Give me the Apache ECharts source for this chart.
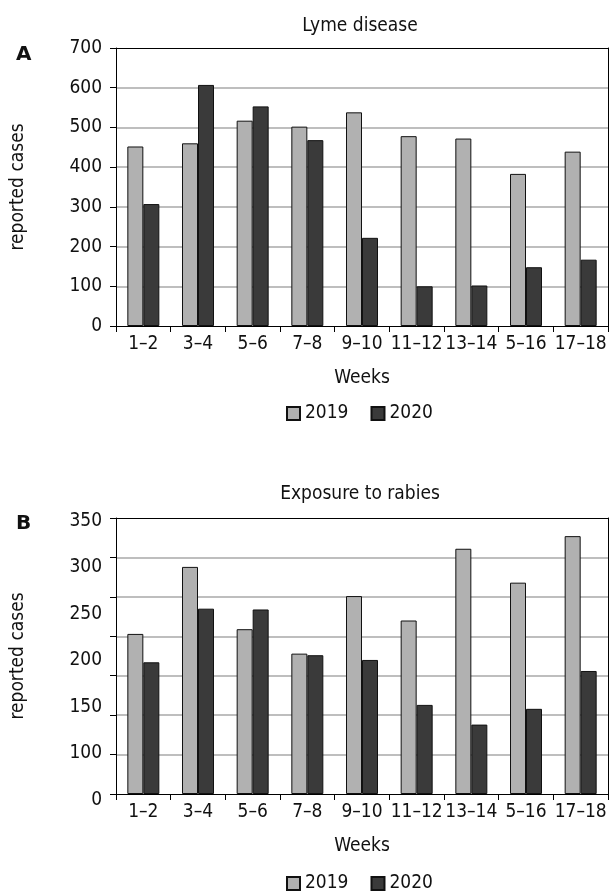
<!DOCTYPE html>
<html><head><meta charset="utf-8">
<script src="https://cdn.jsdelivr.net/npm/echarts@6/dist/echarts.min.js"></script>
<style>html,body{margin:0;padding:0;background:#fff}#c{width:610px;height:895px}</style>
</head><body><div id="c"></div>
<script>
const weeks = ['1–2','3–4','5–6','7–8','9–10','11–12','13–14','5–16','17–18'];
const lyme2019 = [452,460,517,502,538,478,472,383,439];
const lyme2020 = [307,607,553,468,222,100,102,148,167];
const rabies2019 = [203,288,209,178,251,220,311,268,327];
const rabies2020 = [167,235,234,176,170,113,88,108,156];
const lymeMax = 700, lymeInterval = 100;
const rabiesMax = 350, rabiesInterval = 50;
const rabiesTickLabels = ['0','100','150','200','250','300','350'];
const seriesNames = ['2019','2020'];

const FONT = "'DejaVu Sans Condensed', 'DejaVu Sans', sans-serif";
const FS = 19;
const TXT = '#111';
const C19 = '#b1b1b1', C20 = '#3a3a3a';

const chart = echarts.init(document.getElementById('c'), null, {renderer:'canvas'});

function bottomX(gi){
  return {type:'category', gridIndex:gi, data:weeks, position:'bottom', z:5,
    axisLine:{lineStyle:{color:'#000', width:1}},
    axisTick:{show:true, length:6, lineStyle:{color:'#000'}},
    axisLabel:{interval:0, margin:9, fontSize:FS, fontFamily:FONT, color:TXT},
    name:'Weeks', nameLocation:'middle', nameGap:43,
    nameTextStyle:{fontSize:FS, fontFamily:FONT, color:TXT},
    splitLine:{show:false}};
}
function topX(gi){
  return {type:'category', gridIndex:gi, data:weeks, position:'top', z:5,
    axisLine:{show:true, onZero:false, lineStyle:{color:'#000', width:1}},
    axisTick:{show:false}, axisLabel:{show:false}, splitLine:{show:false}};
}
function leftY(gi, max, interval, showLabels){
  return {type:'value', gridIndex:gi, min:0, max:max, interval:interval, position:'left',
    axisLine:{show:true, lineStyle:{color:'#000', width:1}},
    axisTick:{show:true, length:6, lineStyle:{color:'#000'}},
    axisLabel:{show:showLabels, margin:14, fontSize:FS, fontFamily:FONT, color:TXT, padding:[6,0,0,0]},
    splitLine:{show:true, showMaxLine:false, showMinLine:false, lineStyle:{color:'#a8a8a8', width:1.5}},
    name:'reported cases', nameLocation:'middle', nameGap:88, nameRotate:90,
    nameTextStyle:{fontSize:FS, fontFamily:FONT, color:TXT}};
}
function rightY(gi){
  return {type:'value', gridIndex:gi, min:0, max:1, position:'right', z:5,
    axisLine:{show:true, onZero:false, lineStyle:{color:'#000', width:1}},
    axisTick:{show:false}, axisLabel:{show:false}, splitLine:{show:false}};
}
function bar(name, data, xi, yi, color){
  return {type:'bar', name:name, data:data, xAxisIndex:xi, yAxisIndex:yi,
    barWidth:16, barGap:'0%',
    itemStyle:{color:color, borderColor:'#111', borderWidth:1}};
}
function legend(top){
  return {top:top, left:286, itemWidth:13, itemHeight:13, itemGap:22, padding:0,
    icon:'rect', data:seriesNames,
    textStyle:{fontSize:FS, fontFamily:FONT, color:TXT}};
}

const option = {
  animation:false,
  backgroundColor:'#fff',
  title:[
    {text:'Lyme disease', left:360, top:17, textAlign:'center', padding:0,
      textStyle:{fontSize:FS, fontWeight:'normal', fontFamily:FONT, color:TXT}},
    {text:'A', left:16, top:45, padding:0,
      textStyle:{fontSize:20, fontWeight:'bold', fontFamily:"'DejaVu Sans', sans-serif", color:TXT}},
    {text:'Exposure to rabies', left:360, top:485, textAlign:'center', padding:0,
      textStyle:{fontSize:FS, fontWeight:'normal', fontFamily:FONT, color:TXT}},
    {text:'B', left:16, top:514, padding:0,
      textStyle:{fontSize:20, fontWeight:'bold', fontFamily:"'DejaVu Sans', sans-serif", color:TXT}}
  ],
  legend:[legend(404), legend(874)],
  grid:[
    {left:116, top:48, width:492, height:278, show:false},
    {left:116, top:518, width:492, height:276, show:false},
    {left:116, top:521, width:492, height:279, show:false}
  ],
  xAxis:[bottomX(0), topX(0), bottomX(1), topX(1),
    {type:'category', gridIndex:2, data:weeks, show:false}],
  yAxis:[
    leftY(0, lymeMax, lymeInterval, true),
    rightY(0),
    leftY(1, rabiesMax, rabiesInterval, false),
    rightY(1),
    {type:'category', gridIndex:2, data:rabiesTickLabels, position:'left', boundaryGap:false,
      axisLine:{show:false}, axisTick:{show:false}, splitLine:{show:false},
      axisLabel:{interval:0, margin:14, fontSize:FS, fontFamily:FONT, color:TXT}}
  ],
  series:[
    bar(seriesNames[0], lyme2019, 0, 0, C19),
    bar(seriesNames[1], lyme2020, 0, 0, C20),
    bar(seriesNames[0], rabies2019, 2, 2, C19),
    bar(seriesNames[1], rabies2020, 2, 2, C20)
  ]
};
chart.setOption(option);
</script></body></html>
